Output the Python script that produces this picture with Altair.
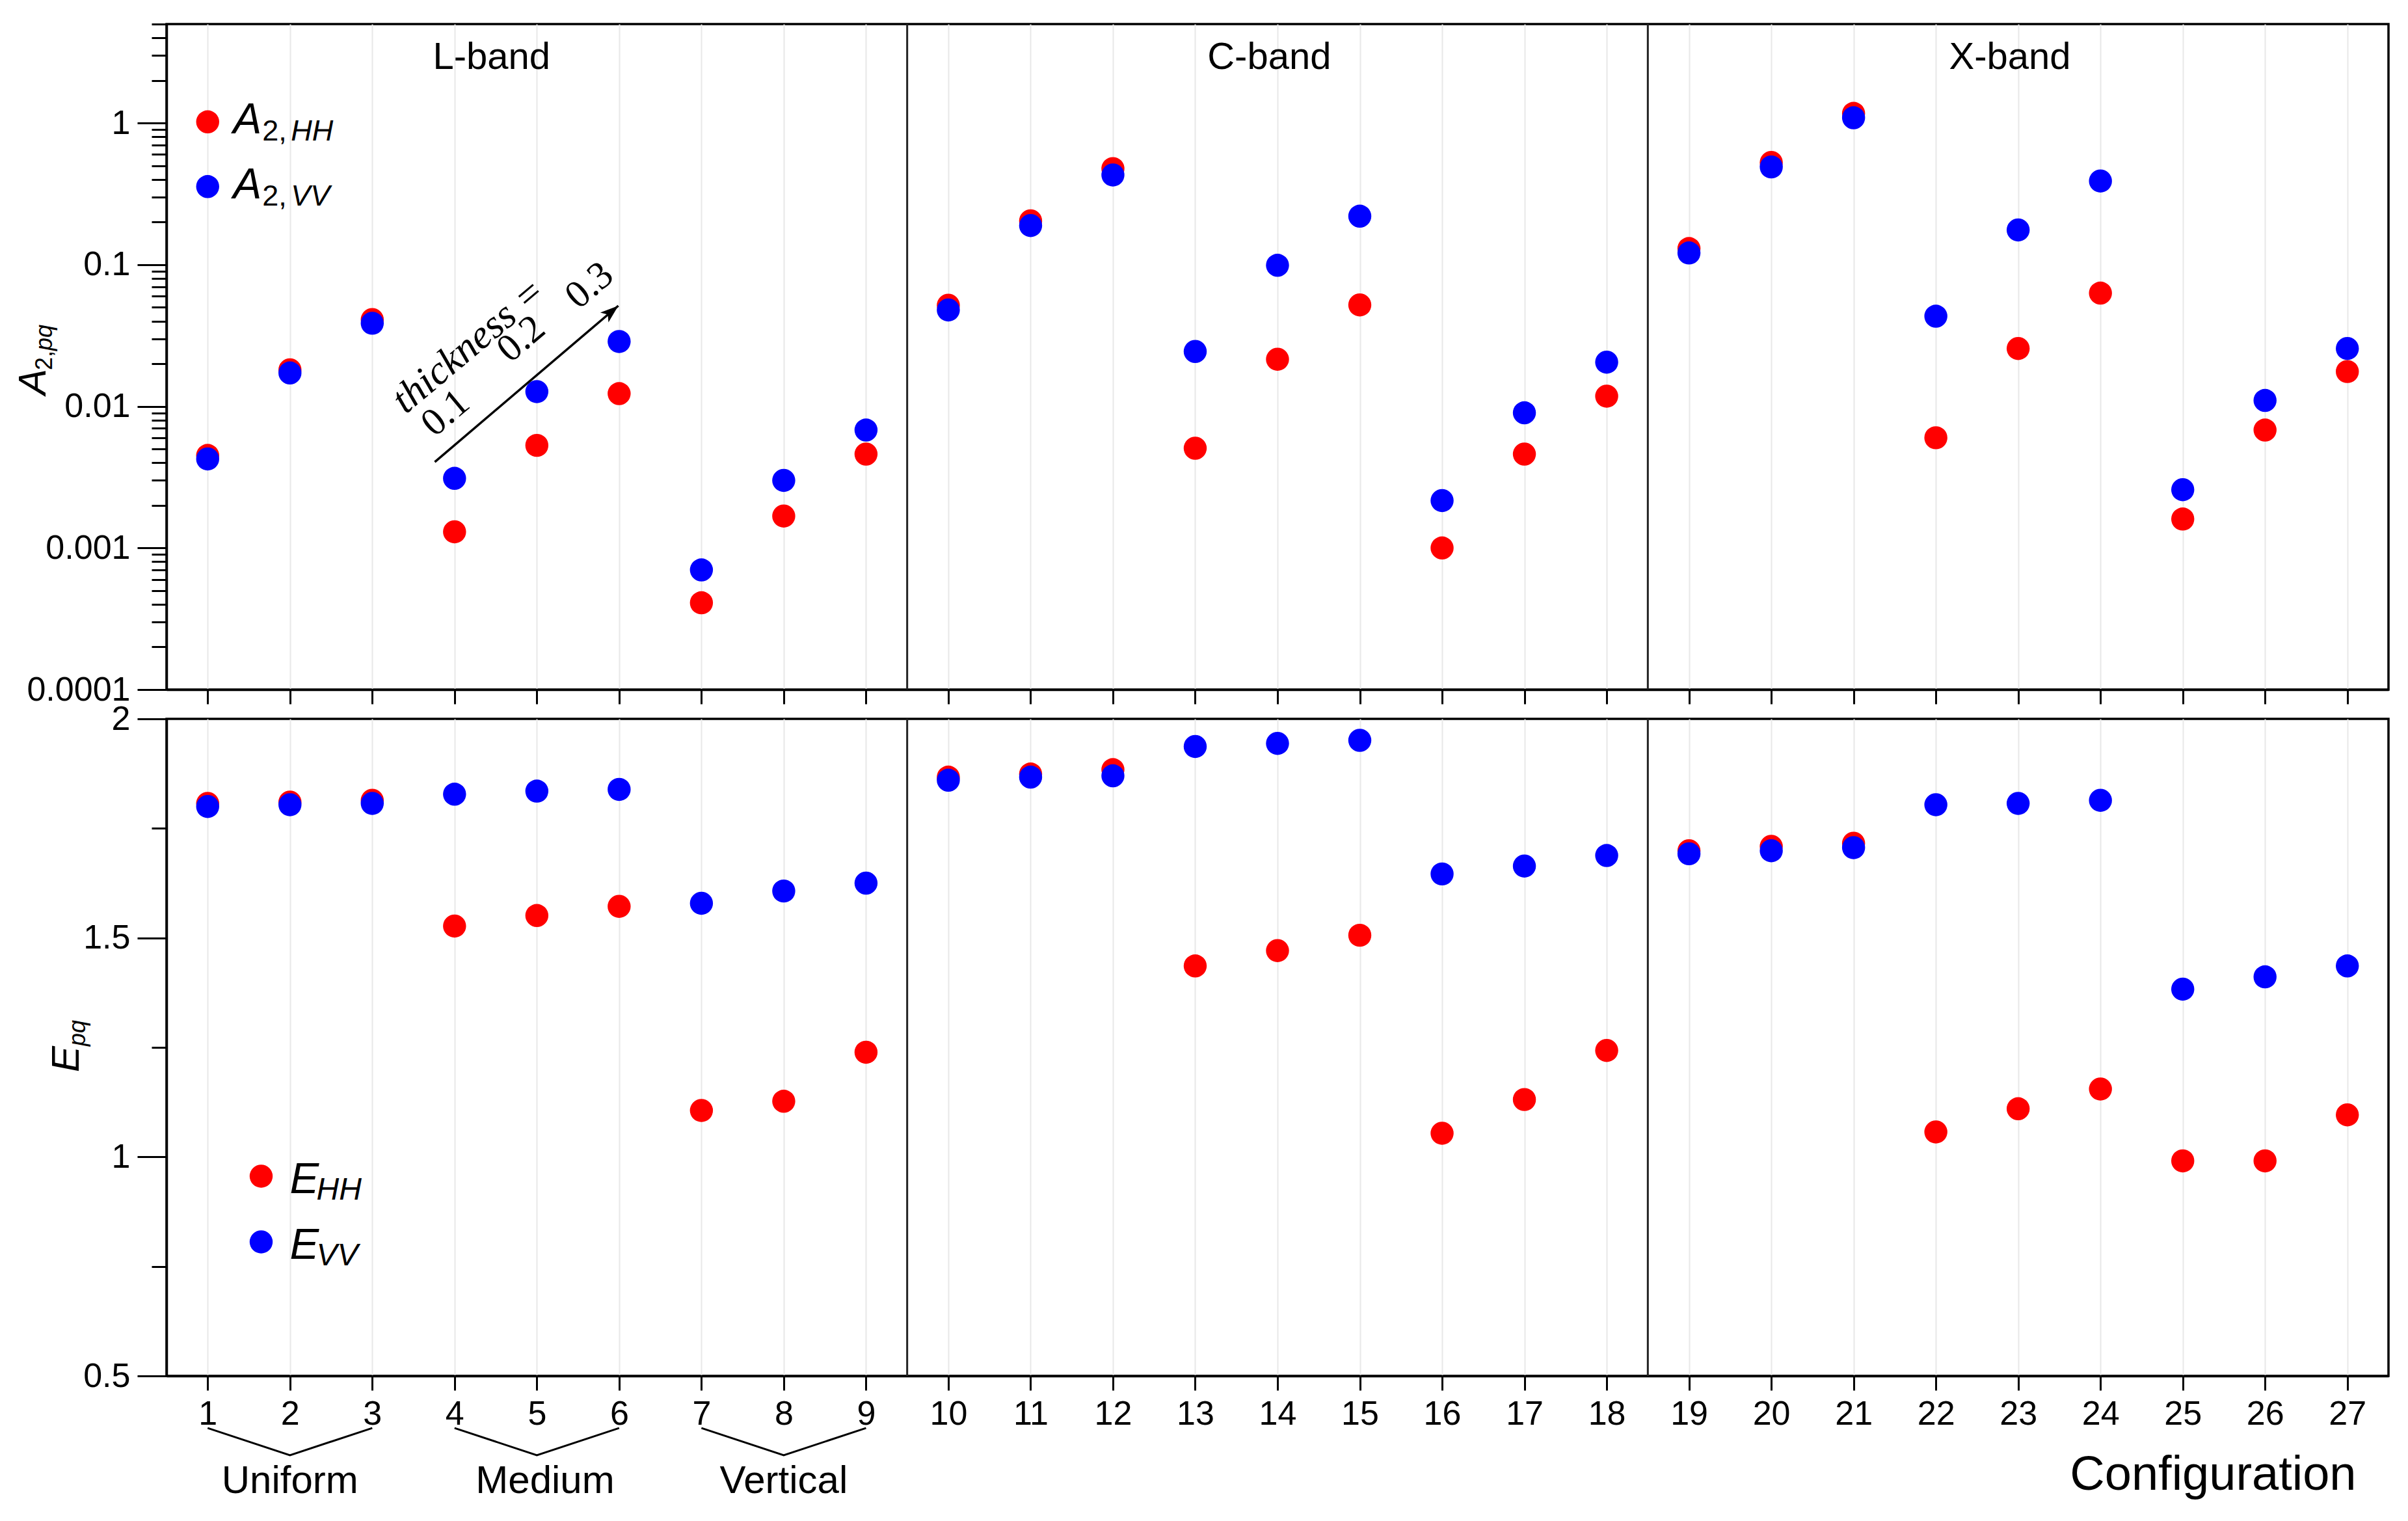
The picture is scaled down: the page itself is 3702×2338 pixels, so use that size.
import altair as alt
import pandas as pd

# ---------------- data ----------------
configs = list(range(1, 28))
a2_hh = [0.0045, 0.0181, 0.041, 0.0013, 0.0053, 0.0123, 0.00041, 0.00168, 0.0046,
         0.0517, 0.204, 0.477, 0.00506, 0.0215, 0.052, 0.0010, 0.0046, 0.0118,
         0.13, 0.527, 1.17, 0.0060, 0.0256, 0.063, 0.0016, 0.0068, 0.0176]
a2_vv = [0.00425, 0.0172, 0.0386, 0.0031, 0.0127, 0.0287, 0.00070, 0.0030, 0.0068,
         0.0479, 0.189, 0.43, 0.0244, 0.099, 0.22, 0.00216, 0.0090, 0.0205,
         0.121, 0.49, 1.09, 0.0433, 0.176, 0.39, 0.00258, 0.011, 0.0256]
e_hh = [1.807, 1.81, 1.814, 1.527, 1.551, 1.572, 1.106, 1.127, 1.239,
        1.867, 1.874, 1.884, 1.436, 1.471, 1.506, 1.054, 1.131, 1.243,
        1.699, 1.709, 1.716, 1.057, 1.11, 1.155, 0.991, 0.991, 1.096]
e_vv = [1.80, 1.804, 1.807, 1.828, 1.835, 1.839, 1.579, 1.607, 1.625,
        1.86, 1.867, 1.87, 1.937, 1.944, 1.951, 1.646, 1.664, 1.688,
        1.692, 1.699, 1.706, 1.804, 1.807, 1.814, 1.383, 1.411, 1.436]

band_names = ["L-band", "C-band", "X-band"]
band_label_x = [4.45, 13.9, 22.9]
band_label_y = [2.88, 2.88, 2.88]
band_edges = [9.5, 18.5]

group_names = ["Uniform", "Medium", "Vertical"]
group_label_x = [2.0, 5.1, 8.0]
group_x = [[1, 2, 3], [4, 5, 6], [7, 8, 9]]
bracket_y = [0.381, 0.319, 0.381]
group_label_y = 0.2326

log_major = [0.0001, 0.001, 0.01, 0.1, 1]
log_minor = [0.0002, 0.0003, 0.0004, 0.0005, 0.0006, 0.0007, 0.0008, 0.0009,
             0.002, 0.003, 0.004, 0.005, 0.006, 0.007, 0.008, 0.009,
             0.02, 0.03, 0.04, 0.05, 0.06, 0.07, 0.08, 0.09,
             0.2, 0.3, 0.4, 0.5, 0.6, 0.7, 0.8, 0.9,
             2, 3, 4, 5]
lin_major = [0.5, 1, 1.5, 2]
lin_minor = [0.75, 1.25, 1.75]

legend_top_y = [1.02, 0.356]
legend_bot_x = 1.65
legend_bot_y = [0.956, 0.806]
legend_colors = ["#ff0000", "#0000ff"]
legend_subs = ["HH", "VV"]

arrow = {"x": [3.76], "y": [0.00405], "x2": [5.99], "y2": [0.0513]}
thick_text = ["thickness =", "0.1", "0.2", "0.3"]
thick_x = [4.17, 3.89, 4.81, 5.64]
thick_y = [0.0268, 0.00895, 0.0299, 0.0713]
thick_style = ["italic", "normal", "normal", "normal"]

# ---------------- layout ----------------
W = 3416
H_TOP = 1023
H_BOT = 1010
SANS = "Liberation Sans"
SERIF = "Liberation Serif"
RED = "#ff0000"
BLUE = "#0000ff"
PT = 1257

x_scale = alt.Scale(domain=[0.5, 27.5], nice=False, zero=False)
y_top_scale = alt.Scale(type="log", domain=[0.0001, 5], nice=False)
y_bot_scale = alt.Scale(domain=[0.5, 2], nice=False, zero=False)


def x_axis(labels, title=None):
    kw = dict(values=configs, tickSize=22, tickWidth=3, tickColor="black",
              grid=True, gridColor="#e8e8e8", gridWidth=2,
              domainColor="black", domainWidth=3.5)
    if labels:
        kw.update(labels=True, labelFont=SANS, labelFontSize=52, labelPadding=11,
                  labelColor="black", title=title, titleFont=SANS, titleFontSize=74,
                  titleFontWeight="normal", titleColor="black", titleAlign="right",
                  titleBaseline="alphabetic", titleX=3366, titleY=174, titleAngle=0)
    else:
        kw.update(labels=False, title=None)
    return alt.Axis(**kw)


X_TOP = x_axis(False)
X_BOT = x_axis(True, "Configuration")


def y_major(values, label_expr):
    return alt.Axis(values=values, tickSize=45, tickWidth=3, tickColor="black",
                    labelFont=SANS, labelFontSize=52, labelPadding=11, labelColor="black",
                    domainColor="black", domainWidth=3.5, grid=False, title=None,
                    orient="left", labelExpr=label_expr)


def y_minor(values):
    return alt.Axis(values=values, tickSize=23, tickWidth=3, tickColor="black",
                    labels=False, domain=False, grid=False, title=None, orient="left")


df_hh = pd.DataFrame({"config": configs, "a2": a2_hh, "e": e_hh})
df_vv = pd.DataFrame({"config": configs, "a2": a2_vv, "e": e_vv})
df_edges = pd.DataFrame({"x": band_edges})
df_band = pd.DataFrame({"x": band_label_x, "y": band_label_y, "t": band_names})


def xt(field):
    return alt.X(field, scale=x_scale, axis=X_TOP)


def xb(field):
    return alt.X(field, scale=x_scale, axis=X_BOT)


def yt(field, axis=None):
    return alt.Y(field, scale=y_top_scale, axis=axis)


def yb(field, axis=None):
    return alt.Y(field, scale=y_bot_scale, axis=axis)


# ---------------- top panel ----------------
t_edges = alt.Chart(df_edges).mark_rule(color="#222222", strokeWidth=3).encode(x=xt("x:Q"))
t_hh = alt.Chart(df_hh).mark_circle(size=PT, color=RED, opacity=1).encode(
    x=xt("config:Q"),
    y=yt("a2:Q", y_major(log_major, "format(datum.value, '.4~f')")))
t_vv = alt.Chart(df_vv).mark_circle(size=PT, color=BLUE, opacity=1).encode(
    x=xt("config:Q"), y=yt("a2:Q", y_minor(log_minor)))
t_band = alt.Chart(df_band).mark_text(font=SANS, fontSize=58, color="black",
                                      baseline="middle", align="center", clip=False).encode(
    x=xt("x:Q"), y=yt("y:Q"), text="t:N")

df_leg_top = pd.DataFrame({"x": [1, 1], "y": legend_top_y, "c": legend_colors,
                           "sub": legend_subs})
lt_dot = alt.Chart(df_leg_top).mark_circle(size=PT, opacity=1).encode(
    x=xt("x:Q"), y=yt("y:Q"), color=alt.Color("c:N", scale=None, legend=None))
lt_a = alt.Chart(df_leg_top).mark_text(text="A", font=SANS, fontStyle="italic", fontSize=66,
                                       align="left", baseline="alphabetic", dx=39, dy=18,
                                       color="black").encode(x=xt("x:Q"), y=yt("y:Q"))
lt_2 = alt.Chart(df_leg_top).mark_text(text="2,", font=SANS, fontSize=45,
                                       align="left", baseline="alphabetic", dx=84, dy=29,
                                       color="black").encode(x=xt("x:Q"), y=yt("y:Q"))
lt_s = alt.Chart(df_leg_top).mark_text(font=SANS, fontStyle="italic", fontSize=45,
                                       align="left", baseline="alphabetic", dx=128, dy=29,
                                       color="black").encode(x=xt("x:Q"), y=yt("y:Q"),
                                                             text="sub:N")

df_arrow = pd.DataFrame(arrow)
t_arrow = alt.Chart(df_arrow).mark_rule(color="black", strokeWidth=3.5, clip=False).encode(
    x=xt("x:Q"), x2="x2:Q", y=yt("y:Q"), y2="y2:Q")
t_head = alt.Chart(df_arrow).mark_point(shape="M-2,-0.7L0,0L-2,0.7L-1.5,0Z", filled=True,
                                        color="black", opacity=1, size=784, angle=320,
                                        strokeWidth=0).encode(x=xt("x2:Q"), y=yt("y2:Q"))
df_thick = pd.DataFrame({"x": thick_x, "y": thick_y, "t": thick_text, "s": thick_style})
t_thick_i = alt.Chart(df_thick[df_thick.s == "italic"]).mark_text(
    font=SERIF, fontStyle="italic", fontSize=62, angle=320, align="center",
    baseline="middle", color="black").encode(x=xt("x:Q"), y=yt("y:Q"), text="t:N")
t_thick_n = alt.Chart(df_thick[df_thick.s == "normal"]).mark_text(
    font=SERIF, fontSize=60, angle=320, align="center",
    baseline="middle", color="black").encode(x=xt("x:Q"), y=yt("y:Q"), text="t:N")

one = pd.DataFrame({"k": [0]})
yt_a = alt.Chart(one).mark_text(text="A", font=SANS, fontStyle="italic", fontSize=60,
                                angle=270, align="left", baseline="alphabetic",
                                color="black").encode(x=alt.value(-186), y=alt.value(570))
yt_2 = alt.Chart(one).mark_text(text="2,", font=SANS, fontSize=36, angle=270, align="left",
                                baseline="alphabetic", dx=38, dy=10,
                                color="black").encode(x=alt.value(-186), y=alt.value(570))
yt_pq = alt.Chart(one).mark_text(text="pq", font=SANS, fontStyle="italic", fontSize=36,
                                 angle=270, align="left", baseline="alphabetic", dx=68, dy=10,
                                 color="black").encode(x=alt.value(-186), y=alt.value(570))

top = alt.layer(t_edges, t_hh, t_vv, t_band, lt_dot, lt_a, lt_2, lt_s,
                t_arrow, t_head, t_thick_i, t_thick_n, yt_a, yt_2, yt_pq).resolve_axis(
    y="independent").properties(width=W, height=H_TOP)

# ---------------- bottom panel ----------------
b_edges = alt.Chart(df_edges).mark_rule(color="#222222", strokeWidth=3).encode(x=xb("x:Q"))
b_hh = alt.Chart(df_hh).mark_circle(size=PT, color=RED, opacity=1).encode(
    x=xb("config:Q"), y=yb("e:Q", y_major(lin_major, "format(datum.value, '~g')")))
b_vv = alt.Chart(df_vv).mark_circle(size=PT, color=BLUE, opacity=1).encode(
    x=xb("config:Q"), y=yb("e:Q", y_minor(lin_minor)))

df_leg_bot = pd.DataFrame({"x": [legend_bot_x] * 2, "y": legend_bot_y, "c": legend_colors,
                           "sub": legend_subs})
lb_dot = alt.Chart(df_leg_bot).mark_circle(size=PT, opacity=1).encode(
    x=xb("x:Q"), y=yb("y:Q"), color=alt.Color("c:N", scale=None, legend=None))
lb_e = alt.Chart(df_leg_bot).mark_text(text="E", font=SANS, fontStyle="italic", fontSize=67,
                                       align="left", baseline="alphabetic", dx=44, dy=26,
                                       color="black").encode(x=xb("x:Q"), y=yb("y:Q"))
lb_s = alt.Chart(df_leg_bot).mark_text(font=SANS, fontStyle="italic", fontSize=48,
                                       align="left", baseline="alphabetic", dx=85, dy=36,
                                       color="black").encode(x=xb("x:Q"), y=yb("y:Q"),
                                                             text="sub:N")

rows = []
for gi, xs in enumerate(group_x):
    for xv, yv in zip(xs, bracket_y):
        rows.append({"g": gi, "x": xv, "y": yv})
df_br = pd.DataFrame(rows)
b_br = alt.Chart(df_br).mark_line(color="black", strokeWidth=3, clip=False).encode(
    x=xb("x:Q"), y=yb("y:Q"), detail="g:N")
df_grp = pd.DataFrame({"x": group_label_x, "y": [group_label_y] * 3, "t": group_names})
b_grp = alt.Chart(df_grp).mark_text(font=SANS, fontSize=60, align="center",
                                    baseline="alphabetic", color="black", clip=False).encode(
    x=xb("x:Q"), y=yb("y:Q"), text="t:N")

yb_e = alt.Chart(one).mark_text(text="E", font=SANS, fontStyle="italic", fontSize=60,
                                angle=270, align="left", baseline="alphabetic",
                                color="black").encode(x=alt.value(-135), y=alt.value(543))
yb_pq = alt.Chart(one).mark_text(text="pq", font=SANS, fontStyle="italic", fontSize=36,
                                 angle=270, align="left", baseline="alphabetic", dx=40, dy=10,
                                 color="black").encode(x=alt.value(-135), y=alt.value(543))

bottom = alt.layer(b_edges, b_hh, b_vv, lb_dot, lb_e, lb_s, b_br, b_grp,
                   yb_e, yb_pq).resolve_axis(y="independent").properties(width=W, height=H_BOT)

chart = alt.vconcat(top, bottom, spacing=45, bounds="flush").properties(
    padding={"left": 12, "top": 25, "right": 20, "bottom": 20},
    background="white",
).configure_view(stroke="black", strokeWidth=3.5)

chart.save("out.html", embed_options={"renderer": "svg", "actions": False})
